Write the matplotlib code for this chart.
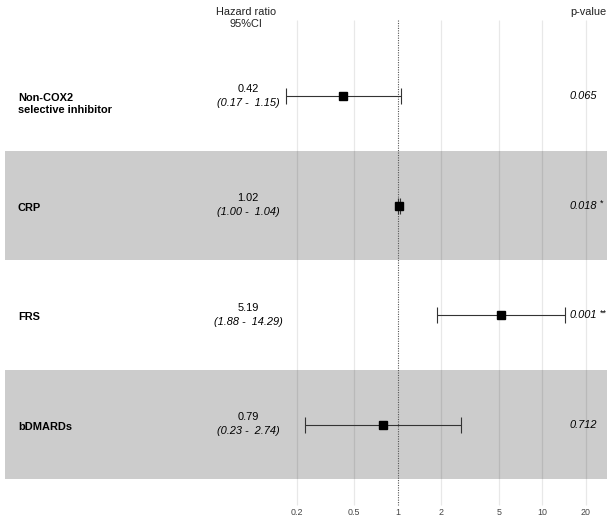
import matplotlib.pyplot as plt
import matplotlib.transforms as mtransforms
import numpy as np

plt.rcParams['font.family'] = ['Liberation Sans', 'DejaVu Sans']

# forest plot data
names = ['Non-COX2\nselective inhibitor', 'CRP', 'FRS', 'bDMARDs']
hr = [0.42, 1.02, 5.19, 0.79]
ci_low = [0.17, 1.00, 1.88, 0.23]
ci_high = [1.06, 1.04, 14.29, 2.74]   # whisker ends as drawn in the picture
hr_text = ['0.42', '1.02', '5.19', '0.79']
ci_text = ['(0.17 -  1.15)', '(1.00 -  1.04)', '(1.88 -  14.29)', '(0.23 -  2.74)']
p_text = ['0.065', '0.018', '0.001', '0.712']
stars = ['', '*', '**', '']
ticks = [0.2, 0.5, 1, 2, 5, 10, 20]
tick_labels = ['0.2', '0.5', '1', '2', '5', '10', '20']

fig = plt.figure(figsize=(6.14, 5.26), dpi=100)
ax = fig.add_axes([0, 0, 1, 1])
ax.set_xscale('log')
ax.set_xlim(10 ** -2.749, 10 ** 1.4945)
ax.set_ylim(3.927, -0.877)
ax.axis('off')

rows = np.arange(len(names))
blend = mtransforms.blended_transform_factory(ax.transAxes, ax.transData)

# shaded bands on every second row
for i in rows:
    if i % 2 == 1:
        ax.axhspan(i - 0.5, i + 0.5, xmin=5 / 614, xmax=607 / 614,
                   color='#cccccc', lw=0, zorder=0)

# vertical grid lines and reference line
for t in ticks:
    if t == 1:
        ax.vlines(t, -0.694, 3.735, color='#555555', lw=0.8,
                  linestyles=(0, (1, 1.2)), zorder=2)
    else:
        ax.vlines(t, -0.694, 3.735, color='black', alpha=0.09, lw=0.9, zorder=1)
for t, lab in zip(ticks, tick_labels):
    ax.text(t, 3.80, lab, ha='center', va='center', fontsize=6.4, color='#444444')

# CIs and point estimates
for i in rows:
    ax.errorbar(hr[i], i, xerr=[[hr[i] - ci_low[i]], [ci_high[i] - hr[i]]],
                fmt='none', ecolor='#333333', elinewidth=0.8, capsize=5.8,
                capthick=0.8, zorder=3)
ax.plot(hr, rows, 's', color='black', ms=6.3, zorder=4)

# text columns
fs = 7.9
for i in rows:
    nl = names[i].count('\n')
    ax.annotate(names[i], (18 / 614, i), xycoords=blend,
                xytext=(0, -1.5 - 4.5 * nl), textcoords='offset points',
                ha='left', va='center', fontsize=fs, fontweight='bold',
                linespacing=1.25)
    ax.annotate(hr_text[i], (248 / 614, i), xycoords=blend,
                xytext=(0, 5.2), textcoords='offset points',
                ha='center', va='center', fontsize=fs)
    ax.annotate(ci_text[i], (248 / 614, i), xycoords=blend,
                xytext=(0, -4.8), textcoords='offset points',
                ha='center', va='center', fontsize=fs, style='italic')
    ax.text(597 / 614, i, p_text[i], transform=blend, ha='right',
            va='center', fontsize=fs, style='italic')
    if stars[i]:
        ax.annotate(stars[i], (600 / 614, i), xycoords=blend,
                    xytext=(0, 1.5), textcoords='offset points',
                    ha='left', va='center', fontsize=6.5)

# headers
ax.text(246 / 614, 1 - 18 / 526, 'Hazard ratio\n95%CI', transform=ax.transAxes,
        ha='center', va='center', fontsize=fs, linespacing=1.3, color='#222222')
ax.text(588 / 614, 1 - 12 / 526, 'p-value', transform=ax.transAxes,
        ha='center', va='center', fontsize=fs, color='#222222')

plt.savefig('out.png', dpi=100)
